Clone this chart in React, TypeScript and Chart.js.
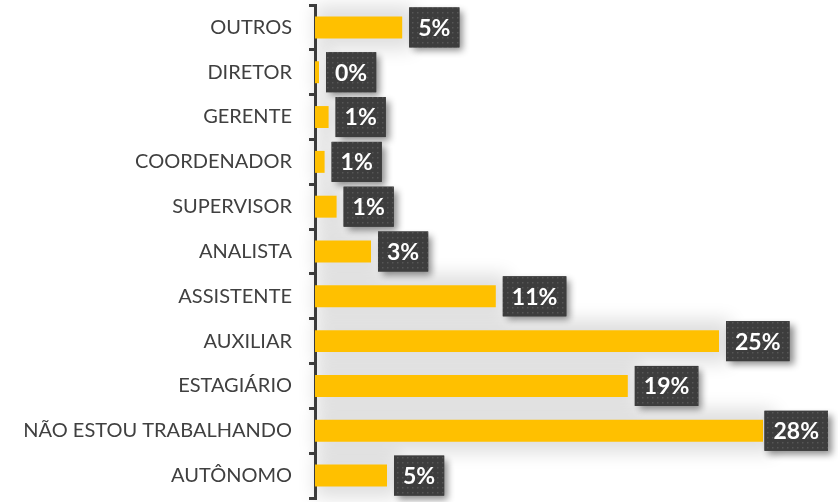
import React, { useEffect, useRef } from "react";
import { Chart, registerables } from "chart.js";
Chart.register(...registerables);

const categories = [
  "OUTROS",
  "DIRETOR",
  "GERENTE",
  "COORDENADOR",
  "SUPERVISOR",
  "ANALISTA",
  "ASSISTENTE",
  "AUXILIAR",
  "ESTAGIÁRIO",
  "NÃO ESTOU TRABALHANDO",
  "AUTÔNOMO",
];
const values = [5.45, 0.25, 0.85, 0.6, 1.35, 3.5, 11.3, 25.25, 19.55, 28.0, 4.5];
const valueLabels = ["5%", "0%", "1%", "1%", "1%", "3%", "11%", "25%", "19%", "28%", "5%"];

const BAR_COLOR = "#FFC000";
const TEXT_COLOR = "#404040";

function makePattern(ctx: CanvasRenderingContext2D) {
  const c = document.createElement("canvas");
  c.width = 5;
  c.height = 5;
  const p = c.getContext("2d")!;
  p.fillStyle = "#3d3d3d";
  p.fillRect(0, 0, 5, 5);
  p.fillStyle = "#565656";
  p.fillRect(2, 2, 1.5, 1.5);
  return ctx.createPattern(c, "repeat");
}

const OFF = 3000;

const shadowPlugin = {
  id: "barShadow",
  beforeDatasetsDraw(chart: any) {
    const ctx = chart.ctx as CanvasRenderingContext2D;
    const meta = chart.getDatasetMeta(0);
    ctx.save();
    meta.data.forEach((bar: any) => {
      const h = bar.height;
      const x0 = bar.base;
      const w = Math.max(bar.x - bar.base, 1);
      ctx.save();
      ctx.shadowColor = "rgba(0,0,0,0.13)";
      ctx.shadowBlur = 18;
      ctx.shadowOffsetX = OFF;
      ctx.shadowOffsetY = 0;
      ctx.fillStyle = "#000";
      ctx.fillRect(x0 - OFF, bar.y - h / 2 - 11, w + 12, h + 22);
      ctx.restore();
    });
    ctx.restore();
  },
};

const labelPlugin = {
  id: "boxLabels",
  afterDatasetsDraw(chart: any) {
    const ctx = chart.ctx as CanvasRenderingContext2D;
    const meta = chart.getDatasetMeta(0);
    const pattern = makePattern(ctx);
    ctx.save();
    ctx.font = "bold 23px Lato";
    ctx.textAlign = "center";
    ctx.textBaseline = "middle";
    meta.data.forEach((bar: any, i: number) => {
      const text = valueLabels[i];
      const tw = ctx.measureText(text).width;
      const w = tw + 18;
      const h = 40;
      let left = bar.x + 7;
      if (left + w > 828) left = 828 - w;
      const top = bar.y - h / 2;
      ctx.save();
      ctx.shadowColor = "rgba(0,0,0,0.45)";
      ctx.shadowBlur = 7;
      ctx.shadowOffsetX = 4;
      ctx.shadowOffsetY = 4;
      ctx.fillStyle = "#3d3d3d";
      ctx.fillRect(left, top, w, h);
      ctx.restore();
      ctx.fillStyle = pattern || "#3d3d3d";
      ctx.fillRect(left, top, w, h);
      ctx.fillStyle = "#ffffff";
      ctx.fillText(text, left + w / 2, bar.y + 1);
    });
    ctx.restore();
  },
};

export default function App() {
  const ref = useRef<HTMLCanvasElement>(null);
  useEffect(() => {
    if (!ref.current) return;
    const chart = new Chart(ref.current, {
      type: "bar",
      data: {
        labels: categories,
        datasets: [
          {
            data: values,
            backgroundColor: BAR_COLOR,
            borderWidth: 0,
            barPercentage: 0.98,
            categoryPercentage: 0.5,
          },
        ],
      },
      options: {
        indexAxis: "y",
        responsive: false,
        animation: false,
        layout: { padding: { top: 5, bottom: 4, left: 0, right: 11 } },
        plugins: {
          legend: { display: false },
          tooltip: { enabled: false },
        },
        scales: {
          x: { display: false, min: 0, max: 32 },
          y: {
            grid: {
              drawOnChartArea: false,
              drawTicks: true,
              tickLength: 6,
              color: TEXT_COLOR,
              lineWidth: 3,
              offset: true,
            },
            border: { display: true, color: TEXT_COLOR, width: 3 },
            ticks: {
              color: TEXT_COLOR,
              font: { family: "Lato", size: 20 },
              padding: 17,
            },
            afterFit: (s: any) => {
              s.width = 315;
              s.paddingTop = 0;
              s.paddingBottom = 0;
            },
          },
        },
      },
      plugins: [shadowPlugin, labelPlugin],
    });
    return () => chart.destroy();
  }, []);
  return (
    <div style={{ position: "fixed", left: 0, top: 0, width: 838, height: 502, background: "#fff" }}>
      <canvas ref={ref} width={838} height={502} />
    </div>
  );
}
